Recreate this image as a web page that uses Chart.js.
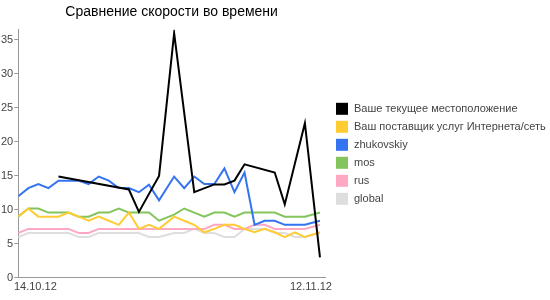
<!DOCTYPE html>
<html>
<head>
<meta charset="utf-8">
<script src="https://cdn.jsdelivr.net/npm/chart.js@4/dist/chart.umd.min.js"></script>
<style>
  html, body { margin: 0; padding: 0; background: #fff; }
  #wrap { width: 550px; height: 300px; }
</style>
</head>
<body>
<div id="wrap"><canvas id="myChart" width="550" height="300"></canvas></div>
<script>
// time of each measurement, in days from 14.10.12 (a few gaps of 1.5 days)
var days = [0, 1, 2, 3, 4, 5, 6, 7, 8, 9, 10, 11, 12, 13, 14,
    15.5, 16.5, 17.5, 18.5, 19.5, 20.5, 21.5, 22.5, 23.5, 24.5, 25.5, 26.5, 27.5, 28.5, 30];

var current = [null, null, null, null, 14.9, null, null, null, null, null, null, 13.0, 9.7, null, 15.0,
    36.0, null, 12.6, null, 13.75, 13.75, 14.3, 16.7, null, null, 15.5, 10.8, null, 22.75, 3.0];
var isp = [9.0, 10.2, 9.0, 9.0, 9.0, 9.6, 9.0, 8.4, 9.0, 8.4, 7.8, 9.6, 7.2, 7.8, 7.2,
    9.0, 8.4, 7.8, 6.7, 7.2, 7.8, 7.8, 7.2, 6.7, 7.2, 6.7, 6.0, 6.7, 6.0, 6.7];
var zhukovskiy = [12.0, 13.2, 13.8, 13.2, 14.3, 14.3, 14.3, 13.8, 14.9, 14.3, 13.2, 13.2, 12.6, 13.7, 11.4,
    14.9, 13.2, 14.9, 13.8, 13.8, 16.1, 12.6, 15.5, 7.8, 8.4, 8.4, 7.8, 7.8, 7.8, 8.4];
var mos = [9.0, 10.2, 10.2, 9.6, 9.6, 9.6, 9.0, 9.0, 9.6, 9.6, 10.2, 9.6, 9.6, 9.6, 8.4,
    9.3, 10.2, 9.6, 9.0, 9.6, 9.6, 9.0, 9.6, 9.6, 9.6, 9.6, 9.0, 9.0, 9.0, 9.6];
var rus = [6.6, 7.2, 7.2, 7.2, 7.2, 7.2, 6.6, 6.6, 7.2, 7.2, 7.2, 7.2, 7.2, 7.2, 7.2,
    7.2, 7.2, 7.2, 7.2, 7.8, 7.8, 7.2, 7.2, 7.8, 7.8, 7.2, 7.2, 7.2, 7.2, 7.8];
var global = [6.0, 6.6, 6.6, 6.6, 6.6, 6.6, 6.0, 6.0, 6.6, 6.6, 6.6, 6.6, 6.6, 6.0, 6.0,
    6.6, 6.6, 7.2, 6.6, 6.6, 6.0, 6.0, 7.2, 7.2, 7.2, 6.6, 6.6, 6.0, 6.0, 6.6];

var names = ['Ваше текущее местоположение', 'Ваш поставщик услуг Интернета/сеть', 'zhukovskiy', 'mos', 'rus', 'global'];
var colors = ['#000000', '#ffcc33', '#3574f0', '#84c45c', '#ffa8c4', '#dedede'];

var yTicks = [0, 5, 10, 15, 20, 25, 30, 35];
var xTickLabels = ['14.10.12', '12.11.12'];
var xTickDays = [1.7, 29.1];

var font = "'Liberation Sans', Arial, sans-serif";

function series(values) {
    return values.map(function (v, i) { return { x: days[i], y: v }; });
}

var allValues = [current, isp, zhukovskiy, mos, rus, global];

var datasets = allValues.map(function (vals, i) {
    return {
        label: names[i],
        data: series(vals),
        borderColor: colors[i],
        backgroundColor: colors[i],
        borderWidth: 2,
        pointRadius: 0,
        tension: 0,
        spanGaps: true,
        fill: false
    };
});

// legend on the right (the built-in one gets squeezed to a quarter of the width)
var sideLegend = {
    id: 'sideLegend',
    afterDraw: function (chart) {
        var c = chart.ctx;
        var area = chart.chartArea;
        var sets = chart.data.datasets;
        var step = 18;
        var box = 12;
        var left = area.right + 11;
        var top = (area.top + area.bottom) / 2 - (sets.length * step - 6) / 2;
        c.save();
        c.font = "11px " + font;
        c.textBaseline = 'middle';
        c.textAlign = 'left';
        sets.forEach(function (ds, i) {
            var y = top + i * step;
            c.fillStyle = ds.borderColor;
            c.fillRect(left, y, box, box);
            c.fillStyle = '#444';
            c.fillText(ds.label, left + box + 6, y + box / 2);
        });
        c.restore();
    }
};

var ctx = document.getElementById('myChart');

var myChart = new Chart(ctx, {
    type: 'line',
    data: { datasets: datasets },
    plugins: [sideLegend],
    options: {
        responsive: false,
        animation: false,
        events: [],
        layout: { padding: { left: 0, right: 225, top: 0, bottom: 3 } },
        plugins: {
            tooltip: { enabled: false },
            legend: { display: false },
            title: {
                display: true,
                text: 'Сравнение скорости во времени',
                fullSize: false,
                color: '#000',
                font: { family: font, size: 14, weight: 'normal' },
                padding: { top: 4, bottom: 9 }
            }
        },
        scales: {
            x: {
                type: 'linear',
                min: 0,
                max: 30.5,
                grid: { display: false, drawTicks: false },
                border: { display: true, color: '#999' },
                afterBuildTicks: function (scale) {
                    scale.ticks = xTickDays.map(function (d) { return { value: d }; });
                },
                ticks: {
                    autoSkip: false,
                    maxRotation: 0,
                    padding: 3,
                    color: '#444',
                    font: { family: font, size: 11 },
                    callback: function (value, index) { return xTickLabels[index]; }
                }
            },
            y: {
                min: 0,
                max: 36.5,
                grid: { drawOnChartArea: false, drawTicks: true, tickLength: 4, color: '#999' },
                border: { display: true, color: '#999' },
                afterBuildTicks: function (scale) {
                    scale.ticks = yTicks.map(function (v) { return { value: v }; });
                },
                ticks: {
                    padding: 1,
                    color: '#444',
                    font: { family: font, size: 11 }
                }
            }
        }
    }
});
</script>
</body>
</html>
